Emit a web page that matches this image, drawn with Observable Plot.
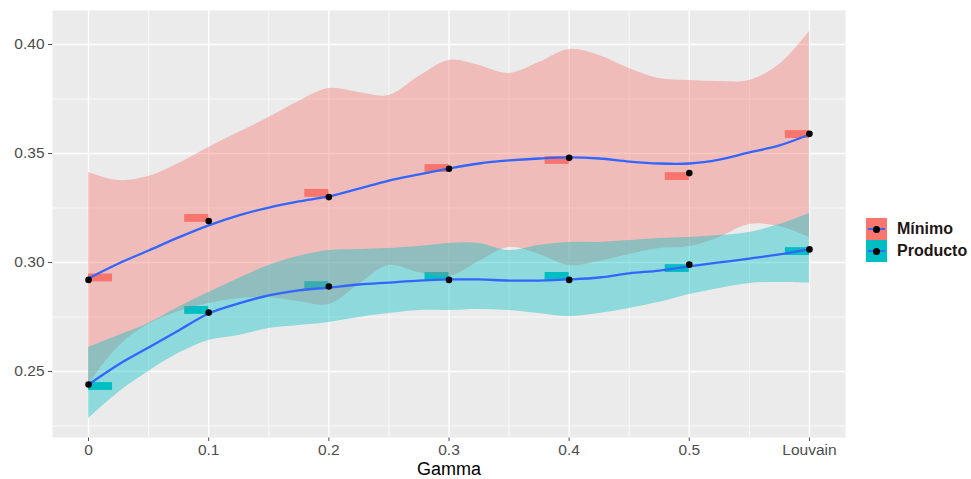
<!DOCTYPE html>
<html><head><meta charset="utf-8">
<script src="https://cdn.jsdelivr.net/npm/d3@7"></script>
<script src="https://cdn.jsdelivr.net/npm/@observablehq/plot@0.6"></script>
<style>
body{margin:0;background:#fff;}
#wrap{position:relative;width:971px;height:479px;overflow:hidden;font-family:"Liberation Sans",Arial,sans-serif;}
.legend{position:absolute;left:866px;top:218px;}
.item{display:flex;align-items:center;}
.key{width:21px;height:22px;position:relative;}
.key .ln{position:absolute;left:2px;right:2px;top:10px;height:2px;background:#3366FF}
.key .dt{position:absolute;left:7px;top:7.5px;width:7px;height:7px;border-radius:50%;background:#000}
.lab{margin-left:10px;font-weight:bold;font-size:16px;color:#1e1616;white-space:nowrap}
</style></head>
<body>
<div id="wrap"></div>
<script>
const gamma = [0, 0.1, 0.2, 0.3, 0.4, 0.5, 0.6];
const gammaLabels = ["0", "0.1", "0.2", "0.3", "0.4", "0.5", "Louvain"];
const series = ["Mínimo", "Producto"];
const seriesColors = ["#F8766D", "#00BFC4"];
const yTicks = [0.25, 0.30, 0.35, 0.40];
const yMinor = [0.225, 0.275, 0.325, 0.375];
const xMinor = [0.05, 0.15, 0.25, 0.35, 0.45, 0.55];

const minimoPts = [0.292, 0.319, 0.330, 0.343, 0.348, 0.341, 0.359];
const productoPts = [0.244, 0.277, 0.289, 0.292, 0.292, 0.299, 0.306];
const minimoBars = [0.2929, 0.3202, 0.3317, 0.3431, 0.3468, 0.3394, 0.3587];
const productoBars = [0.2431, 0.2780, 0.2894, 0.2936, 0.2936, 0.2972, 0.3050];

const smoothX = [0,0.025,0.05,0.075,0.1,0.125,0.15,0.175,0.2,0.225,0.25,0.275,0.3,0.325,0.35,0.375,0.4,0.425,0.45,0.475,0.5,0.525,0.55,0.575,0.6];
const minimoFit = [0.2927,0.2995,0.3055,0.3115,0.3170,0.3216,0.3252,0.3280,0.3303,0.3339,0.3376,0.3404,0.3431,0.3454,0.3468,0.3477,0.3482,0.3477,0.3463,0.3454,0.3454,0.3472,0.3505,0.3537,0.3587];
const minimoHi = [0.3413,0.3376,0.3394,0.3454,0.3528,0.3596,0.3665,0.3739,0.3798,0.3780,0.3766,0.3853,0.3927,0.3904,0.3867,0.3917,0.3977,0.3950,0.3890,0.3844,0.3835,0.3830,0.3835,0.3908,0.4060];
const minimoLo = [0.2440,0.2615,0.2716,0.2775,0.2812,0.2835,0.2839,0.2821,0.2807,0.2899,0.2986,0.2954,0.2936,0.3005,0.3069,0.3037,0.2986,0.3005,0.3037,0.3064,0.3073,0.3115,0.3174,0.3165,0.3115];
const productoFit = [0.2440,0.2532,0.2610,0.2688,0.2766,0.2812,0.2849,0.2872,0.2885,0.2899,0.2908,0.2917,0.2922,0.2922,0.2917,0.2917,0.2922,0.2931,0.2950,0.2963,0.2982,0.3000,0.3018,0.3037,0.3060];
const productoHi = [0.2610,0.2665,0.2720,0.2794,0.2862,0.2927,0.2986,0.3028,0.3055,0.3060,0.3064,0.3073,0.3087,0.3087,0.3055,0.3078,0.3092,0.3092,0.3101,0.3110,0.3115,0.3124,0.3138,0.3174,0.3225];
const productoLo = [0.2284,0.2404,0.2500,0.2583,0.2642,0.2665,0.2697,0.2711,0.2725,0.2748,0.2766,0.2780,0.2780,0.2784,0.2780,0.2766,0.2752,0.2766,0.2789,0.2817,0.2853,0.2881,0.2904,0.2908,0.2904];

const smooth = (fit, lo, hi, s) => smoothX.map((x, i) => ({x, fit: fit[i], lo: lo[i], hi: hi[i], s}));
const minimoSmooth = smooth(minimoFit, minimoLo, minimoHi, series[0]);
const productoSmooth = smooth(productoFit, productoLo, productoHi, series[1]);

const points = [
  ...gamma.map((g, i) => ({x: g, y: minimoPts[i], s: series[0]})),
  ...gamma.map((g, i) => ({x: g, y: productoPts[i], s: series[1]}))
];
const barW = 0.02, barH = 0.0018;
const bars = [[minimoBars, 0], [productoBars, 1]].flatMap(([vals, k]) =>
  vals.map((v, i) => ({
    x1: i === 0 ? gamma[i] : gamma[i] - barW,
    x2: i === 0 ? gamma[i] + barW : gamma[i],
    y1: v - barH, y2: v + barH, fill: seriesColors[k]
  })));

const chart = Plot.plot({
  width: 971, height: 479,
  marginLeft: 52, marginRight: 126, marginTop: 10, marginBottom: 42,
  style: {fontFamily: '"Liberation Sans", Arial, sans-serif', fontSize: "15.5px", color: "#4D4D4D", background: "white"},
  x: {domain: [-0.03, 0.63], ticks: gamma, tickFormat: d => gammaLabels[gamma.indexOf(d)], tickSize: 4, tickPadding: 2, label: null},
  y: {domain: [0.2197, 0.4156], ticks: yTicks, tickFormat: ".2f", tickSize: 4, tickPadding: 4, label: null},
  marks: [
    Plot.frame({fill: "#EBEBEB", stroke: "none"}),
    Plot.ruleY(yMinor, {stroke: "white", strokeWidth: 0.7}),
    Plot.ruleX(xMinor, {stroke: "white", strokeWidth: 0.7}),
    Plot.ruleY(yTicks, {stroke: "white", strokeWidth: 1.4}),
    Plot.ruleX(gamma, {stroke: "white", strokeWidth: 1.4}),
    Plot.rect(bars, {x1: "x1", x2: "x2", y1: "y1", y2: "y2", fill: d => d.fill}),
    Plot.areaY(minimoSmooth, {x: "x", y1: "lo", y2: "hi", fill: seriesColors[0], fillOpacity: 0.4, curve: "catmull-rom"}),
    Plot.areaY(productoSmooth, {x: "x", y1: "lo", y2: "hi", fill: seriesColors[1], fillOpacity: 0.4, curve: "catmull-rom"}),
    Plot.line(minimoSmooth, {x: "x", y: "fit", stroke: "#3366FF", strokeWidth: 2.3, curve: "catmull-rom"}),
    Plot.line(productoSmooth, {x: "x", y: "fit", stroke: "#3366FF", strokeWidth: 2.3, curve: "catmull-rom"}),
    Plot.dot(points, {x: "x", y: "y", r: 3.3, fill: "black", stroke: "none"}),
    Plot.text(["Gamma"], {frameAnchor: "bottom", lineAnchor: "middle", dy: 32, fontSize: 18, fill: "black"})
  ]
});
const wrap = document.getElementById("wrap");
wrap.appendChild(chart);

const legend = document.createElement("div");
legend.className = "legend";
series.forEach((s, k) => {
  const item = document.createElement("div");
  item.className = "item";
  const key = document.createElement("div");
  key.className = "key";
  key.style.background = seriesColors[k];
  key.innerHTML = '<div class="ln"></div><div class="dt"></div>';
  const lab = document.createElement("span");
  lab.className = "lab";
  lab.textContent = s;
  item.appendChild(key); item.appendChild(lab);
  legend.appendChild(item);
});
wrap.appendChild(legend);
</script>
</body></html>
